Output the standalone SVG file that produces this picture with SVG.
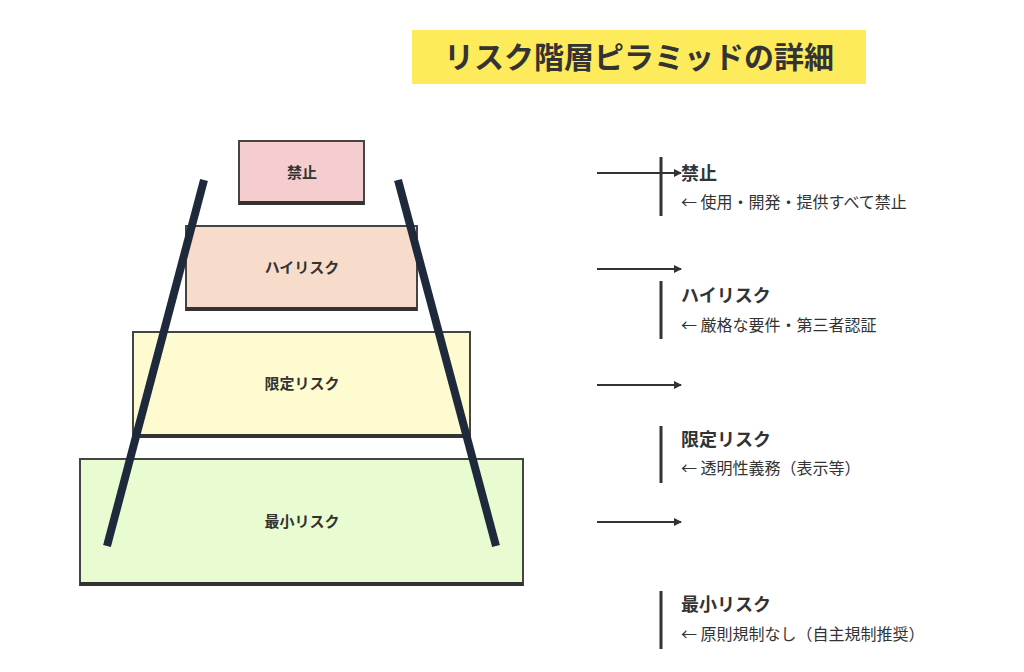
<svg xmlns="http://www.w3.org/2000/svg" width="1024" height="672" viewBox="0 0 1024 672">
<style>
.box{stroke:#444;stroke-width:2}
.shadow{fill:#333}
.bl{font-family:"Noto Sans CJK JP",sans-serif;font-weight:bold;font-size:15px;fill:#333;text-anchor:middle}
.t{font-family:"Noto Sans CJK JP",sans-serif;font-weight:bold;font-size:18px;fill:#333}
.d{font-family:"Noto Sans CJK JP",sans-serif;font-size:16px;fill:#333}
.bar{stroke:#333;stroke-width:3}
.ar{stroke:#333;stroke-width:2;marker-end:url(#ah)}
.edge{stroke:#1e293b;stroke-width:8}
</style>
<defs><marker id="ah" markerWidth="8" markerHeight="8" refX="7" refY="4" orient="auto" markerUnits="userSpaceOnUse"><path d="M0,0L8,4L0,8z" fill="#333"/></marker></defs>
<rect x="412" y="30" width="454" height="54" fill="#fdeb5c"/>
<text x="639" y="68" font-family="Noto Sans CJK JP,sans-serif" font-weight="bold" font-size="30" fill="#333" text-anchor="middle">リスク階層ピラミッドの詳細</text>
<g id="n1"><rect x="239" y="141" width="125" height="63" class="box" fill="#f6cdcf"/><rect x="239" y="201" width="125" height="4" class="shadow"/><text x="302" y="178" class="bl">禁止</text></g>
<g id="n2"><rect x="186" y="226" width="231" height="84" class="box" fill="#f8dccb"/><rect x="186" y="307" width="231" height="4" class="shadow"/><text x="302" y="273" class="bl">ハイリスク</text></g>
<g id="n3"><rect x="133" y="332" width="337" height="105" class="box" fill="#fdfbcf"/><rect x="133" y="434" width="337" height="4" class="shadow"/><text x="302" y="389" class="bl">限定リスク</text></g>
<g id="n4"><rect x="80" y="459" width="443" height="126" class="box" fill="#e9fbd1"/><rect x="80" y="582" width="443" height="4" class="shadow"/><text x="302" y="527" class="bl">最小リスク</text></g>
<g id="edges"><line x1="204" y1="180" x2="107" y2="546" class="edge"/><line x1="398" y1="180" x2="496" y2="546" class="edge"/></g>
<g id="connectors">
<line x1="597" y1="173" x2="681" y2="173" class="ar"/>
<line x1="597" y1="269" x2="681" y2="269" class="ar"/>
<line x1="597" y1="385" x2="681" y2="385" class="ar"/>
<line x1="597" y1="522" x2="681" y2="522" class="ar"/>
<line x1="661" y1="157" x2="661" y2="216" class="bar"/>
<line x1="661" y1="281" x2="661" y2="339" class="bar"/>
<line x1="661" y1="426" x2="661" y2="483" class="bar"/>
<line x1="661" y1="591" x2="661" y2="649" class="bar"/>
</g>
<g id="l1"><text x="681" y="180" class="t">禁止</text><text x="681" y="208" class="d">← 使用・開発・提供すべて禁止</text></g>
<g id="l2"><text x="681" y="302" class="t">ハイリスク</text><text x="681" y="331" class="d">← 厳格な要件・第三者認証</text></g>
<g id="l3"><text x="681" y="446" class="t">限定リスク</text><text x="681" y="474" class="d">← 透明性義務（表示等）</text></g>
<g id="l4"><text x="681" y="611" class="t">最小リスク</text><text x="681" y="640" class="d">← 原則規制なし（自主規制推奨）</text></g>
</svg>
